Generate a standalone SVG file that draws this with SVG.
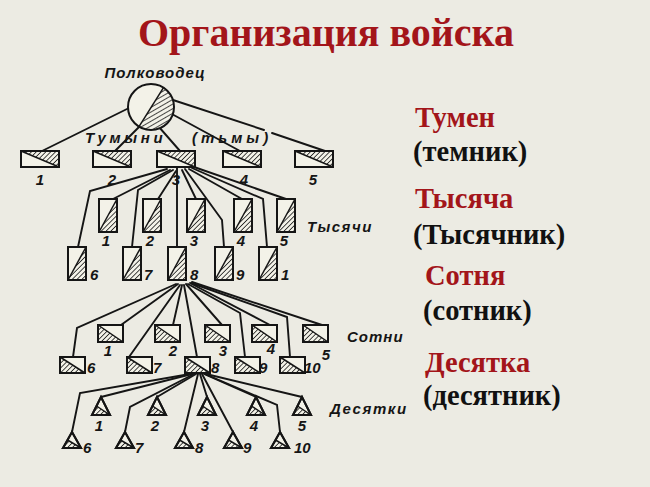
<svg xmlns="http://www.w3.org/2000/svg" width="650" height="487" viewBox="0 0 650 487">
<defs>
<pattern id="h" patternUnits="userSpaceOnUse" width="3.4" height="3.4" patternTransform="rotate(45)">
<line x1="0" y1="0" x2="0" y2="3.4" stroke="#1a1a1a" stroke-width="1.6"/>
</pattern>
<pattern id="hc" patternUnits="userSpaceOnUse" width="4" height="4" patternTransform="rotate(60)">
<line x1="0" y1="0" x2="0" y2="4" stroke="#1a1a1a" stroke-width="1.6"/>
</pattern>
<style>
.bg{fill:#ECEBE3}
.box{fill:#F3F2E8;stroke:#151515;stroke-width:2}
.hat{fill:url(#h);stroke:none}
.dg{stroke:#151515;stroke-width:1.5;fill:none}
.c line,.c polyline{stroke:#151515;stroke-width:1.9;fill:none;stroke-linecap:round}
.num{font-family:"Liberation Sans",Arial,sans-serif;font-weight:bold;font-style:italic;font-size:15px;fill:#151515}
.lbl{font-family:"Liberation Sans",Arial,sans-serif;font-weight:bold;font-style:italic;font-size:15px;fill:#151515}
.title{font-family:"Liberation Serif","Times New Roman",serif;font-weight:bold;font-size:40px;fill:#A3151A}
.rr{font-family:"Liberation Serif","Times New Roman",serif;font-weight:bold;font-size:28.5px;fill:#A3151A}
.rb{font-family:"Liberation Serif","Times New Roman",serif;font-weight:bold;font-size:28.5px;fill:#111}
</style>
</defs>
<rect class="bg" x="0" y="0" width="650" height="487"/>
<text class="title" x="138" y="46">Организация войска</text>

<g id="legend">
<text class="rr" x="415" y="127">Тумен</text>
<text class="rb" x="413" y="161">(темник)</text>
<text class="rr" x="415" y="208">Тысяча</text>
<text class="rb" x="413" y="244">(Тысячник)</text>
<text class="rr" x="425" y="285">Сотня</text>
<text class="rb" x="423" y="320">(сотник)</text>
<text class="rr" x="425" y="372">Десятка</text>
<text class="rb" x="423" y="405">(десятник)</text>
</g>

<g class="c" id="connectors">
<line x1="129" y1="108" x2="42" y2="151"/>
<line x1="140" y1="126" x2="115" y2="151"/>
<line x1="159" y1="127" x2="180" y2="151"/>
<line x1="170" y1="113" x2="240" y2="151"/>
<line x1="173" y1="100" x2="264" y2="130"/>
<line x1="272" y1="133" x2="325" y2="151"/>
<polyline points="167,169 90,191 78,247"/>
<line x1="170" y1="170" x2="113" y2="199"/>
<polyline points="173,170 138,190 132,247"/>
<line x1="176" y1="171" x2="158" y2="199"/>
<line x1="177" y1="168" x2="177" y2="247"/>
<line x1="182" y1="170" x2="196" y2="199"/>
<polyline points="185,169 222,220 224,247"/>
<line x1="189" y1="169" x2="242" y2="199"/>
<polyline points="192,168 263,199 267,247"/>
<line x1="194" y1="167" x2="286" y2="199"/>
<polyline points="176,284 77,328 73,357"/>
<line x1="178" y1="284" x2="121" y2="325"/>
<line x1="180" y1="285" x2="129" y2="357"/>
<line x1="182" y1="285" x2="173" y2="325"/>
<line x1="184" y1="285" x2="197" y2="357"/>
<line x1="186" y1="284" x2="222" y2="325"/>
<polyline points="188,284 240,313 245,357"/>
<line x1="190" y1="283" x2="270" y2="325"/>
<polyline points="191,283 287,317 290,357"/>
<line x1="192" y1="282" x2="322" y2="325"/>
<polyline points="190,374 80,393 72,432"/>
<line x1="192" y1="374" x2="101" y2="397"/>
<polyline points="194,374 130,407 125,432"/>
<line x1="196" y1="374" x2="157" y2="397"/>
<line x1="198" y1="374" x2="184" y2="432"/>
<line x1="200" y1="374" x2="207" y2="397"/>
<line x1="202" y1="374" x2="233" y2="432"/>
<line x1="204" y1="374" x2="256" y2="397"/>
<polyline points="205,374 277,405 280,432"/>
<line x1="206" y1="374" x2="302" y2="397"/>
</g>

<g id="commander">
<text class="lbl" x="155" y="78" text-anchor="middle" font-size="13" letter-spacing="1">Полководец</text>
<circle cx="151" cy="107" r="23" fill="#F3F2E8"/>
<path d="M163.5,87.7 A23,23 0 0 1 139,126.6 Z" fill="url(#hc)"/>
<line class="dg" x1="163.5" y1="87.7" x2="139" y2="126.6"/>
<circle cx="151" cy="107" r="23" fill="none" stroke="#151515" stroke-width="2"/>
</g>

<g id="tumens">
<text class="lbl" x="85" y="143" letter-spacing="3.7">Тумыни</text>
<text class="lbl" x="192" y="143" letter-spacing="4">(тьмы)</text>
</g>
<g id="tumen1"><rect class="box" x="21" y="151" width="38" height="16"/><polygon class="hat" points="21,151 59,151 59,167"/><line class="dg" x1="21" y1="151" x2="59" y2="167"/><rect class="box" x="21" y="151" width="38" height="16" style="fill:none"/><text class="num" x="40" y="185" text-anchor="middle">1</text></g>
<g id="tumen2"><rect class="box" x="93" y="151" width="38" height="16"/><polygon class="hat" points="93,151 131,151 131,167"/><line class="dg" x1="93" y1="151" x2="131" y2="167"/><rect class="box" x="93" y="151" width="38" height="16" style="fill:none"/><text class="num" x="112" y="185" text-anchor="middle">2</text></g>
<g id="tumen3"><rect class="box" x="157" y="151" width="38" height="16"/><polygon class="hat" points="157,151 195,151 195,167"/><line class="dg" x1="157" y1="151" x2="195" y2="167"/><rect class="box" x="157" y="151" width="38" height="16" style="fill:none"/><text class="num" x="176" y="185" text-anchor="middle">3</text></g>
<g id="tumen4"><rect class="box" x="223" y="151" width="38" height="16"/><polygon class="hat" points="223,151 261,151 261,167"/><line class="dg" x1="223" y1="151" x2="261" y2="167"/><rect class="box" x="223" y="151" width="38" height="16" style="fill:none"/><text class="num" x="244" y="185" text-anchor="middle">4</text></g>
<g id="tumen5"><rect class="box" x="295" y="151" width="38" height="16"/><polygon class="hat" points="295,151 333,151 333,167"/><line class="dg" x1="295" y1="151" x2="333" y2="167"/><rect class="box" x="295" y="151" width="38" height="16" style="fill:none"/><text class="num" x="313" y="185" text-anchor="middle">5</text></g>

<g id="thousands-label"><text class="lbl" x="307" y="232" letter-spacing="1.5">Тысячи</text></g>
<g id="th1"><rect class="box" x="99" y="199" width="18" height="33"/><polygon class="hat" points="117,199 117,232 99,232"/><line class="dg" x1="99" y1="232" x2="117" y2="199"/><rect class="box" x="99" y="199" width="18" height="33" style="fill:none"/><text class="num" x="106" y="246" text-anchor="middle">1</text></g>
<g id="th2"><rect class="box" x="143" y="199" width="18" height="33"/><polygon class="hat" points="161,199 161,232 143,232"/><line class="dg" x1="143" y1="232" x2="161" y2="199"/><rect class="box" x="143" y="199" width="18" height="33" style="fill:none"/><text class="num" x="150" y="246" text-anchor="middle">2</text></g>
<g id="th3"><rect class="box" x="187" y="199" width="18" height="33"/><polygon class="hat" points="205,199 205,232 187,232"/><line class="dg" x1="187" y1="232" x2="205" y2="199"/><rect class="box" x="187" y="199" width="18" height="33" style="fill:none"/><text class="num" x="194" y="246" text-anchor="middle">3</text></g>
<g id="th4"><rect class="box" x="234" y="199" width="18" height="33"/><polygon class="hat" points="252,199 252,232 234,232"/><line class="dg" x1="234" y1="232" x2="252" y2="199"/><rect class="box" x="234" y="199" width="18" height="33" style="fill:none"/><text class="num" x="241" y="246" text-anchor="middle">4</text></g>
<g id="th5"><rect class="box" x="277" y="199" width="18" height="33"/><polygon class="hat" points="295,199 295,232 277,232"/><line class="dg" x1="277" y1="232" x2="295" y2="199"/><rect class="box" x="277" y="199" width="18" height="33" style="fill:none"/><text class="num" x="284" y="246" text-anchor="middle">5</text></g>
<g id="th6"><rect class="box" x="68" y="247" width="18" height="33"/><polygon class="hat" points="86,247 86,280 68,280"/><line class="dg" x1="68" y1="280" x2="86" y2="247"/><rect class="box" x="68" y="247" width="18" height="33" style="fill:none"/><text class="num" x="90" y="280">6</text></g>
<g id="th7"><rect class="box" x="123" y="247" width="18" height="33"/><polygon class="hat" points="141,247 141,280 123,280"/><line class="dg" x1="123" y1="280" x2="141" y2="247"/><rect class="box" x="123" y="247" width="18" height="33" style="fill:none"/><text class="num" x="144" y="280">7</text></g>
<g id="th8"><rect class="box" x="168" y="247" width="18" height="33"/><polygon class="hat" points="186,247 186,280 168,280"/><line class="dg" x1="168" y1="280" x2="186" y2="247"/><rect class="box" x="168" y="247" width="18" height="33" style="fill:none"/><text class="num" x="190" y="280">8</text></g>
<g id="th9"><rect class="box" x="215" y="247" width="18" height="33"/><polygon class="hat" points="233,247 233,280 215,280"/><line class="dg" x1="215" y1="280" x2="233" y2="247"/><rect class="box" x="215" y="247" width="18" height="33" style="fill:none"/><text class="num" x="236" y="280">9</text></g>
<g id="th10"><rect class="box" x="259" y="247" width="18" height="33"/><polygon class="hat" points="277,247 277,280 259,280"/><line class="dg" x1="259" y1="280" x2="277" y2="247"/><rect class="box" x="259" y="247" width="18" height="33" style="fill:none"/><text class="num" x="281" y="280">1</text></g>

<g id="hundreds-label"><text class="lbl" x="347" y="342" letter-spacing="1">Сотни</text></g>
<g id="h1"><rect class="box" x="98" y="325" width="25" height="17"/><polygon class="hat" points="98,325 123,342 98,342"/><line class="dg" x1="98" y1="325" x2="123" y2="342"/><rect class="box" x="98" y="325" width="25" height="17" style="fill:none"/><text class="num" x="108" y="356" text-anchor="middle">1</text></g>
<g id="h2"><rect class="box" x="155" y="325" width="25" height="17"/><polygon class="hat" points="155,325 180,342 155,342"/><line class="dg" x1="155" y1="325" x2="180" y2="342"/><rect class="box" x="155" y="325" width="25" height="17" style="fill:none"/><text class="num" x="173" y="356" text-anchor="middle">2</text></g>
<g id="h3"><rect class="box" x="205" y="325" width="25" height="17"/><polygon class="hat" points="205,325 230,342 205,342"/><line class="dg" x1="205" y1="325" x2="230" y2="342"/><rect class="box" x="205" y="325" width="25" height="17" style="fill:none"/><text class="num" x="223" y="356" text-anchor="middle">3</text></g>
<g id="h4"><rect class="box" x="252" y="325" width="25" height="17"/><polygon class="hat" points="252,325 277,342 252,342"/><line class="dg" x1="252" y1="325" x2="277" y2="342"/><rect class="box" x="252" y="325" width="25" height="17" style="fill:none"/><text class="num" x="271" y="354" text-anchor="middle">4</text></g>
<g id="h5"><rect class="box" x="303" y="325" width="25" height="17"/><polygon class="hat" points="303,325 328,342 303,342"/><line class="dg" x1="303" y1="325" x2="328" y2="342"/><rect class="box" x="303" y="325" width="25" height="17" style="fill:none"/><text class="num" x="326" y="360" text-anchor="middle">5</text></g>
<g id="h6"><rect class="box" x="60" y="357" width="25" height="16"/><polygon class="hat" points="60,357 85,373 60,373"/><line class="dg" x1="60" y1="357" x2="85" y2="373"/><rect class="box" x="60" y="357" width="25" height="16" style="fill:none"/><text class="num" x="87" y="373">6</text></g>
<g id="h7"><rect class="box" x="127" y="357" width="25" height="16"/><polygon class="hat" points="127,357 152,373 127,373"/><line class="dg" x1="127" y1="357" x2="152" y2="373"/><rect class="box" x="127" y="357" width="25" height="16" style="fill:none"/><text class="num" x="153" y="373">7</text></g>
<g id="h8"><rect class="box" x="185" y="357" width="25" height="16"/><polygon class="hat" points="185,357 210,373 185,373"/><line class="dg" x1="185" y1="357" x2="210" y2="373"/><rect class="box" x="185" y="357" width="25" height="16" style="fill:none"/><text class="num" x="211" y="373">8</text></g>
<g id="h9"><rect class="box" x="235" y="357" width="25" height="16"/><polygon class="hat" points="235,357 260,373 235,373"/><line class="dg" x1="235" y1="357" x2="260" y2="373"/><rect class="box" x="235" y="357" width="25" height="16" style="fill:none"/><text class="num" x="259" y="373">9</text></g>
<g id="h10"><rect class="box" x="280" y="357" width="25" height="16"/><polygon class="hat" points="280,357 305,373 280,373"/><line class="dg" x1="280" y1="357" x2="305" y2="373"/><rect class="box" x="280" y="357" width="25" height="16" style="fill:none"/><text class="num" x="304" y="373">10</text></g>

<g id="tens-label"><text class="lbl" x="330" y="414" letter-spacing="1.6">Десятки</text></g>
<g id="d1"><polygon class="box" points="101,397 110,415 92,415"/><polygon class="hat" points="96.5,406 110,415 92,415"/><line class="dg" x1="96.5" y1="406" x2="110" y2="415"/><polygon class="box" points="101,397 110,415 92,415" style="fill:none"/><text class="num" x="99" y="431" text-anchor="middle">1</text></g>
<g id="d2"><polygon class="box" points="157,397 166,415 148,415"/><polygon class="hat" points="152.5,406 166,415 148,415"/><line class="dg" x1="152.5" y1="406" x2="166" y2="415"/><polygon class="box" points="157,397 166,415 148,415" style="fill:none"/><text class="num" x="155" y="431" text-anchor="middle">2</text></g>
<g id="d3"><polygon class="box" points="207,397 216,415 198,415"/><polygon class="hat" points="202.5,406 216,415 198,415"/><line class="dg" x1="202.5" y1="406" x2="216" y2="415"/><polygon class="box" points="207,397 216,415 198,415" style="fill:none"/><text class="num" x="205" y="431" text-anchor="middle">3</text></g>
<g id="d4"><polygon class="box" points="256,397 265,415 247,415"/><polygon class="hat" points="251.5,406 265,415 247,415"/><line class="dg" x1="251.5" y1="406" x2="265" y2="415"/><polygon class="box" points="256,397 265,415 247,415" style="fill:none"/><text class="num" x="254" y="431" text-anchor="middle">4</text></g>
<g id="d5"><polygon class="box" points="302,397 311,415 293,415"/><polygon class="hat" points="297.5,406 311,415 293,415"/><line class="dg" x1="297.5" y1="406" x2="311" y2="415"/><polygon class="box" points="302,397 311,415 293,415" style="fill:none"/><text class="num" x="302" y="431" text-anchor="middle">5</text></g>
<g id="d6"><polygon class="box" points="72,432 81,448 63,448"/><polygon class="hat" points="67.5,440 81,448 63,448"/><line class="dg" x1="67.5" y1="440" x2="81" y2="448"/><polygon class="box" points="72,432 81,448 63,448" style="fill:none"/><text class="num" x="83" y="453">6</text></g>
<g id="d7"><polygon class="box" points="125,432 134,448 116,448"/><polygon class="hat" points="120.5,440 134,448 116,448"/><line class="dg" x1="120.5" y1="440" x2="134" y2="448"/><polygon class="box" points="125,432 134,448 116,448" style="fill:none"/><text class="num" x="135" y="453">7</text></g>
<g id="d8"><polygon class="box" points="184,432 193,448 175,448"/><polygon class="hat" points="179.5,440 193,448 175,448"/><line class="dg" x1="179.5" y1="440" x2="193" y2="448"/><polygon class="box" points="184,432 193,448 175,448" style="fill:none"/><text class="num" x="195" y="453">8</text></g>
<g id="d9"><polygon class="box" points="233,432 242,448 224,448"/><polygon class="hat" points="228.5,440 242,448 224,448"/><line class="dg" x1="228.5" y1="440" x2="242" y2="448"/><polygon class="box" points="233,432 242,448 224,448" style="fill:none"/><text class="num" x="243" y="453">9</text></g>
<g id="d10"><polygon class="box" points="280,432 289,448 271,448"/><polygon class="hat" points="275.5,440 289,448 271,448"/><line class="dg" x1="275.5" y1="440" x2="289" y2="448"/><polygon class="box" points="280,432 289,448 271,448" style="fill:none"/><text class="num" x="294" y="453">10</text></g>
</svg>
